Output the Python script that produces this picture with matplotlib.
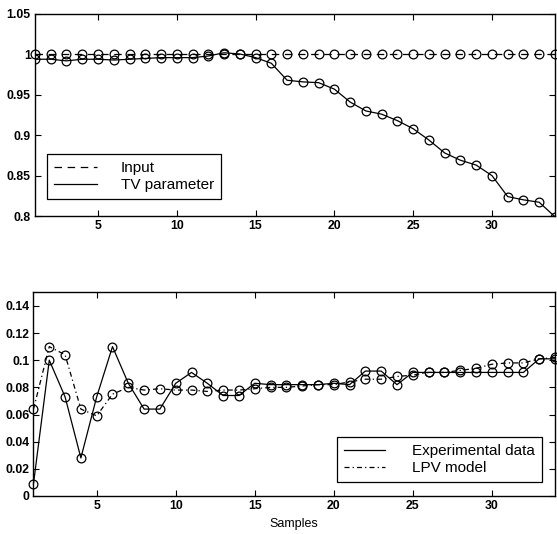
import matplotlib
matplotlib.use("Agg")
import matplotlib.pyplot as plt
from matplotlib.lines import Line2D
import numpy as np

plt.rcParams['font.family'] = ['Liberation Sans', 'DejaVu Sans']

samples = list(range(1, 35))
input_vals = [1.0] * 34
tv_param = [0.994, 0.994, 0.992, 0.994, 0.994, 0.993, 0.994, 0.995, 0.996, 0.996,
            0.996, 0.998, 1.002, 1.0005, 0.996, 0.989, 0.968, 0.966, 0.965, 0.957,
            0.941, 0.930, 0.926, 0.918, 0.908, 0.894, 0.878, 0.869, 0.863, 0.850,
            0.824, 0.820, 0.817, 0.799]
exp_data = [0.009, 0.100, 0.073, 0.028, 0.073, 0.110, 0.083, 0.064, 0.064, 0.083,
            0.091, 0.083, 0.074, 0.074, 0.083, 0.082, 0.082, 0.082, 0.082, 0.083,
            0.082, 0.092, 0.092, 0.082, 0.091, 0.091, 0.091, 0.091, 0.091, 0.091,
            0.091, 0.091, 0.101, 0.101]
lpv_model = [0.064, 0.110, 0.104, 0.064, 0.059, 0.075, 0.080, 0.078, 0.079, 0.078,
             0.078, 0.077, 0.078, 0.078, 0.079, 0.080, 0.080, 0.081, 0.082, 0.082,
             0.084, 0.086, 0.086, 0.088, 0.089, 0.091, 0.091, 0.0925, 0.094, 0.097,
             0.098, 0.098, 0.101, 0.102]

top_yticks = [0.8, 0.85, 0.9, 0.95, 1.0, 1.05]
top_yticklabels = ['0.8', '0.85', '0.9', '0.95', '1', '1.05']
bot_yticks = [0, 0.02, 0.04, 0.06, 0.08, 0.1, 0.12, 0.14]
bot_yticklabels = ['0', '0.02', '0.04', '0.06', '0.08', '0.1', '0.12', '0.14']
xticks = [5, 10, 15, 20, 25, 30]

fig = plt.figure(figsize=(5.57, 5.34), dpi=100)
ax1 = fig.add_axes([0.0628, 0.5955, 0.9336, 0.3783])
ax2 = fig.add_axes([0.0601, 0.0712, 0.9363, 0.3814])

lw = 0.9
ms = 6.3
mk = dict(marker='o', markerfacecolor='none', markeredgecolor='black', markersize=ms, markeredgewidth=0.9)
dash_input = (0, (6, 4.5))
dash_lpv = (0, (4, 2.5, 1, 2.5))

ax1.plot(samples, input_vals, linestyle=dash_input, color='black', linewidth=lw, clip_on=False, **mk)
ax1.plot(samples, tv_param, linestyle='-', color='black', linewidth=lw, **mk)
ax1.set_xlim(1, 34)
ax1.set_ylim(0.8, 1.05)
ax1.set_yticks(top_yticks)
ax1.set_yticklabels(top_yticklabels)

ax2.plot(samples, exp_data, linestyle='-', color='black', linewidth=lw, clip_on=False, **mk)
ax2.plot(samples, lpv_model, linestyle=dash_lpv, color='black', linewidth=lw, clip_on=False, **mk)
ax2.set_xlim(1, 34)
ax2.set_ylim(0, 0.15)
ax2.set_yticks(bot_yticks)
ax2.set_yticklabels(bot_yticklabels)
ax2.set_xlabel('Samples', fontsize=9, labelpad=4)

for ax in (ax1, ax2):
    ax.set_xticks(xticks)
    ax.tick_params(direction='in', top=True, right=True, length=4, width=0.8,
                   labelsize=8.8, pad=3)
    for lab in ax.get_xticklabels() + ax.get_yticklabels():
        lab.set_fontweight('bold')
    for s in ax.spines.values():
        s.set_linewidth(1.0)

h1 = [Line2D([], [], color='black', linestyle=dash_input, linewidth=lw),
      Line2D([], [], color='black', linestyle='-', linewidth=lw)]
leg1 = ax1.legend(h1, ['Input', 'TV parameter'], loc='lower left',
                  bbox_to_anchor=(0.023, 0.084), borderaxespad=0, fontsize=11,
                  handlelength=2.8, handletextpad=1.6, labelspacing=0.2,
                  borderpad=0.45, fancybox=False, framealpha=1, edgecolor='black')
leg1.get_frame().set_linewidth(0.9)

h2 = [Line2D([], [], color='black', linestyle='-', linewidth=lw),
      Line2D([], [], color='black', linestyle=dash_lpv, linewidth=lw)]
leg2 = ax2.legend(h2, ['Experimental data', 'LPV model'], loc='lower left',
                  bbox_to_anchor=(0.582, 0.069), borderaxespad=0, fontsize=11,
                  handlelength=2.7, handletextpad=1.75, labelspacing=0.2,
                  borderpad=0.45, fancybox=False, framealpha=1, edgecolor='black')
leg2.get_frame().set_linewidth(0.9)

fig.savefig('out.png', dpi=100)
